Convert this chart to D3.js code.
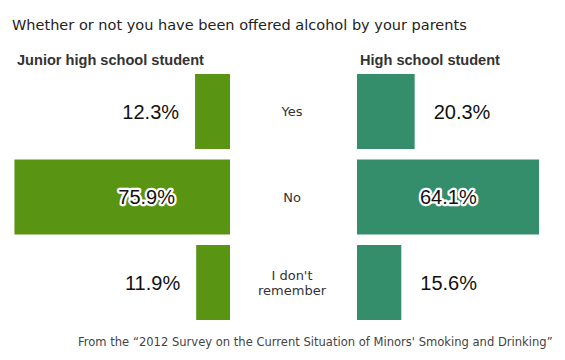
<!DOCTYPE html>
<html>
<head>
<meta charset="utf-8">
<script src="https://cdn.jsdelivr.net/npm/d3@7"></script>
<style>
  body { margin: 0; background: #fff; }
  svg { display: block; font-family: "DejaVu Sans", sans-serif; }
</style>
</head>
<body>
<div id="chart"></div>
<script>
var categories = ["Yes", "No", "I don't remember"];
var juniorHigh = [12.3, 75.9, 11.9];
var highSchool = [20.3, 64.1, 15.6];
var groupLabels = ["Junior high school student", "High school student"];
var titleText = "Whether or not you have been offered alcohol by your parents";
var sourceText = "From the \u201c2012 Survey on the Current Situation of Minors' Smoking and Drinking\u201d";

var width = 565, height = 360;
var leftZero = 230, rightZero = 357;
var insideLimit = 50; // values above this get their label inside the bar

var svg = d3.select("#chart").append("svg")
    .attr("width", width)
    .attr("height", height);

// shrink/grow the font so the text takes the wanted width
function fitWidth(sel, size, w) {
  sel.attr("font-size", size + "px");
  var got = sel.node().getComputedTextLength();
  sel.attr("font-size", (size * w / got).toFixed(2) + "px");
}

var x = d3.scaleLinear().domain([0, 100]).range([0, 284]);
var y = d3.scaleBand().domain(categories).range([74, 320]).paddingInner(0.123);

var title = svg.append("text")
    .attr("x", 12).attr("y", 30)
    .attr("fill", "#222")
    .text(titleText);
fitWidth(title, 14.5, 455);

var h1 = svg.append("text")
    .attr("x", 17).attr("y", 65)
    .attr("font-family", "'Liberation Sans', Arial, sans-serif")
    .attr("font-weight", "bold").attr("fill", "#333")
    .text(groupLabels[0]);
fitWidth(h1, 14.5, 187);
var h2 = svg.append("text")
    .attr("x", 360).attr("y", 65)
    .attr("font-family", "'Liberation Sans', Arial, sans-serif")
    .attr("font-weight", "bold").attr("fill", "#333")
    .text(groupLabels[1]);
fitWidth(h2, 14.5, 140);

var sides = [
  { values: juniorHigh, color: "#5a9413", left: true },
  { values: highSchool, color: "#348d6b", left: false }
];

sides.forEach(function (side) {
  var g = svg.append("g");
  g.selectAll("rect")
      .data(side.values)
    .enter().append("rect")
      .attr("x", function (d) { return side.left ? leftZero - x(d) : rightZero; })
      .attr("y", function (d, i) { return y(categories[i]); })
      .attr("width", function (d) { return x(d); })
      .attr("height", y.bandwidth())
      .attr("fill", side.color);

  g.selectAll("text")
      .data(side.values)
    .enter().append("text")
      .attr("x", function (d) {
        if (d > insideLimit) return side.left ? leftZero - 55 : rightZero + 63;
        return side.left ? leftZero - x(d) - 16 : rightZero + x(d) + 19;
      })
      .attr("y", function (d, i) { return y(categories[i]) + y.bandwidth() / 2; })
      .attr("dy", "0.36em")
      .attr("text-anchor", side.left ? "end" : "start")
      .attr("font-family", "'Liberation Sans', Arial, sans-serif")
      .attr("font-size", "20px")
      .attr("fill", "#111")
      .attr("stroke", function (d) { return d > insideLimit ? "#fff" : "none"; })
      .attr("stroke-width", 4.5)
      .attr("stroke-linejoin", "round")
      .attr("paint-order", "stroke")
      .text(function (d) { return d.toFixed(1) + "%"; });
});

// category names between the two columns, long one split in two lines
var catLines = categories.map(function (d) {
  return d == "I don't remember" ? ["I don't", "remember"] : [d];
});
var lineGap = 15;
categories.forEach(function (d, i) {
  var lines = catLines[i];
  var mid = y(d) + y.bandwidth() / 2;
  svg.append("g").selectAll("text")
      .data(lines)
    .enter().append("text")
      .attr("x", 292)
      .attr("y", function (line, k) { return mid + (k - (lines.length - 1) / 2) * lineGap; })
      .attr("dy", "0.36em")
      .attr("text-anchor", "middle")
      .attr("font-size", "13px")
      .attr("fill", "#333")
      .text(function (line) { return line; });
});

var src = svg.append("text")
    .attr("x", 78).attr("y", 346)
    .attr("fill", "#444")
    .text(sourceText);
fitWidth(src, 12, 475);
</script>
</body>
</html>
